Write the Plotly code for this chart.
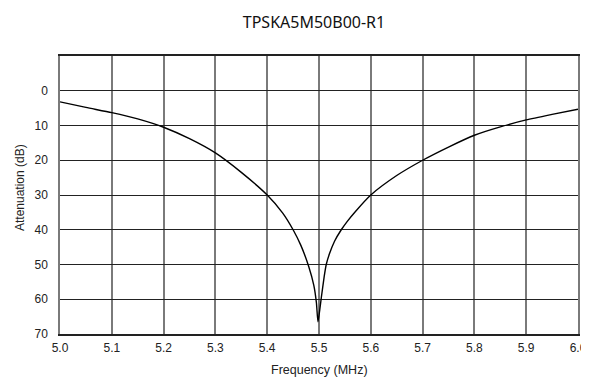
import plotly.graph_objects as go

title_text = "TPSKA5M50B00-R1"
x_title = "Frequency (MHz)"
y_title = "Attenuation (dB)"
freq_mhz = [5.00, 5.05, 5.10, 5.15, 5.20, 5.25, 5.30, 5.35, 5.40, 5.43, 5.45, 5.465,
            5.48, 5.49, 5.495, 5.498, 5.5015, 5.5045, 5.51, 5.514, 5.52, 5.53, 5.543,
            5.555, 5.57, 5.60, 5.65, 5.70, 5.75, 5.80, 5.85, 5.90, 5.95, 6.00]
atten_db = [3.2, 4.8, 6.3, 8.1, 10.5, 13.8, 17.9, 23.5, 30.0, 35.2, 40.0, 44.5,
            50.5, 56.0, 61.0, 66.5, 63.0, 59.5, 53.5, 50.0, 47.0, 43.3, 40.0,
            37.5, 34.8, 30.0, 24.4, 20.0, 16.2, 12.8, 10.4, 8.4, 6.8, 5.3]
x_ticks = [5.0, 5.1, 5.2, 5.3, 5.4, 5.5, 5.6, 5.7, 5.8, 5.9, 6.0]
y_ticks = [-10, 0, 10, 20, 30, 40, 50, 60, 70]
y_ticklabels = ["", "0", "10", "20", "30", "40", "50", "60", "70"]

# the page body has an 8px default margin, so the figure is drawn 8px in from the top-left
OFF = 8
W, H = 589 - OFF, 377 - OFF
ML, MT = 60 - OFF, 56 - OFF
MR = W - (578 - OFF)
MB = H - (334 - OFF)
PW, PH = W - ML - MR, H - MT - MB

fig = go.Figure()
fig.add_trace(go.Scatter(x=freq_mhz, y=atten_db, mode="lines",
                         line=dict(color="black", width=1.4, shape="spline", smoothing=0.6),
                         showlegend=False, hoverinfo="x+y"))

font_fam = "Liberation Sans, Arial, sans-serif"
axis_font = dict(family=font_fam, size=12, color="#222")
fig.update_layout(
    width=W, height=H,
    margin=dict(l=ML, r=MR, t=MT, b=MB, autoexpand=False),
    paper_bgcolor="white", plot_bgcolor="white",
    title=dict(text=title_text, x=(314 - OFF) / W, xref="container",
               xanchor="center", y=1 - (22 - OFF) / H, yref="container", yanchor="middle",
               font=dict(family="Noto Sans, Liberation Sans, sans-serif", size=16, color="#111")),
    xaxis=dict(range=[5.0, 6.0], tickvals=x_ticks, ticktext=[f"{v:.1f}" for v in x_ticks],
               showgrid=True, gridcolor="#7a7a7a", gridwidth=1.5,
               showline=True, linecolor="#222", linewidth=1.5, mirror=True,
               ticks="", tickfont=axis_font, zeroline=False, automargin=False,
               ticklabelstandoff=2),
    yaxis=dict(range=[70, -10], tickvals=y_ticks, ticktext=y_ticklabels,
               showgrid=True, gridcolor="#222", gridwidth=1.3,
               showline=True, linecolor="#7a7a7a", linewidth=1.5, mirror=True,
               ticks="", tickfont=axis_font, zeroline=False, automargin=False,
               ticklabelstandoff=8),
    annotations=[
        dict(text=x_title, xref="paper", yref="paper", x=0.5, y=-(369.5 - 334) / PH,
             xanchor="center", yanchor="middle", showarrow=False,
             font=dict(family=font_fam, size=12.5, color="#222")),
        dict(text=y_title, xref="paper", yref="paper", x=-(60 - 20) / PW,
             y=(334 - 188) / PH, xanchor="center", yanchor="middle",
             textangle=-90, showarrow=False,
             font=dict(family=font_fam, size=12, color="#222")),
    ],
)

fig.write_html("out.html")
